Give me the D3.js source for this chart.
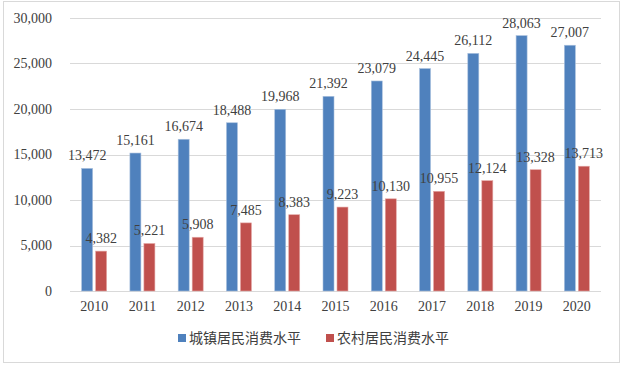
<!DOCTYPE html>
<html>
<head>
<meta charset="utf-8">
<script src="https://cdn.jsdelivr.net/npm/d3@7"></script>
<style>
body { margin: 0; background: #fff; }
</style>
</head>
<body>
<div id="app"></div>
<script>
const years = ["2010","2011","2012","2013","2014","2015","2016","2017","2018","2019","2020"];
const urban = [13472,15161,16674,18488,19968,21392,23079,24445,26112,28063,27007];
const rural = [4382,5221,5908,7485,8383,9223,10130,10955,12124,13328,13713];
const seriesNames = ["城镇居民消费水平","农村居民消费水平"];
const colors = ["#4F81BD","#C0504D"];
const yTicks = [0,5000,10000,15000,20000,25000,30000];

const w = 624, h = 365;
const plotLeft = 70, plotRight = 601, plotTop = 18, plotBottom = 291;

const svg = d3.select("#app").append("svg")
    .attr("width", w)
    .attr("height", h)
    .style("font-family", "'Liberation Serif', 'Times New Roman', serif");

// frame
svg.append("rect")
    .attr("x", 3.5).attr("y", 1.5)
    .attr("width", 616).attr("height", 361)
    .attr("fill", "#fff")
    .attr("stroke", "#d9d9d9");

const xScale = d3.scaleBand()
    .domain(years)
    .range([plotLeft, plotRight]);

const yScale = d3.scaleLinear()
    .domain([0, 30000])
    .range([plotBottom, plotTop]);

// grid lines
svg.append("g")
    .selectAll("line")
    .data(yTicks)
    .enter()
    .append("line")
    .attr("x1", plotLeft).attr("x2", plotRight)
    .attr("y1", d => Math.round(yScale(d)) + 0.5)
    .attr("y2", d => Math.round(yScale(d)) + 0.5)
    .attr("stroke", "#d9d9d9");

const yAxis = d3.axisLeft(yScale)
    .tickValues(yTicks)
    .tickFormat(d3.format(","))
    .tickSize(0)
    .tickPadding(18);

svg.append("g")
    .attr("transform", "translate(" + plotLeft + ",0)")
    .call(yAxis)
    .call(g => g.select(".domain").remove())
    .selectAll("text")
    .style("font-size", "14px")
    .style("font-family", "'Liberation Serif', serif")
    .attr("fill", "#404040");

const xAxis = d3.axisBottom(xScale).tickSize(0).tickPadding(10);
svg.append("g")
    .attr("transform", "translate(0," + plotBottom + ")")
    .call(xAxis)
    .call(g => g.select(".domain").remove())
    .selectAll("text")
    .style("font-size", "14px")
    .style("font-family", "'Liberation Serif', serif")
    .attr("fill", "#404040");

const barW = 11, gap = 3;
const series = [urban, rural];

series.forEach((vals, s) => {
    const offset = s === 0 ? -(gap / 2 + barW) : gap / 2;
    const g = svg.append("g");
    g.selectAll("rect")
        .data(vals)
        .enter()
        .append("rect")
        .attr("x", (d, i) => xScale(years[i]) + xScale.bandwidth() / 2 + offset)
        .attr("y", d => yScale(d))
        .attr("width", barW)
        .attr("height", d => yScale(0) - yScale(d))
        .attr("fill", colors[s])
        .attr("stroke", s === 0 ? "#a9c0de" : "#e4a8a6")
        .attr("stroke-width", 0.6);

    g.selectAll("text")
        .data(vals)
        .enter()
        .append("text")
        .attr("x", (d, i) => xScale(years[i]) + xScale.bandwidth() / 2 + offset + barW / 2)
        .attr("y", d => yScale(d) - 8)
        .attr("text-anchor", "middle")
        .style("font-size", "14px")
        .attr("fill", "#404040")
        .text(d => d3.format(",")(d));
});

// legend
const legendX = [178, 326];
seriesNames.forEach((name, s) => {
    svg.append("rect")
        .attr("x", legendX[s]).attr("y", 334)
        .attr("width", 8).attr("height", 8)
        .attr("fill", colors[s]);
    svg.append("text")
        .attr("x", legendX[s] + 11).attr("y", 343)
        .style("font-size", "14px")
        .style("font-family", "'Noto Sans CJK SC', sans-serif")
        .attr("fill", "#404040")
        .text(name);
});
</script>
</body>
</html>
